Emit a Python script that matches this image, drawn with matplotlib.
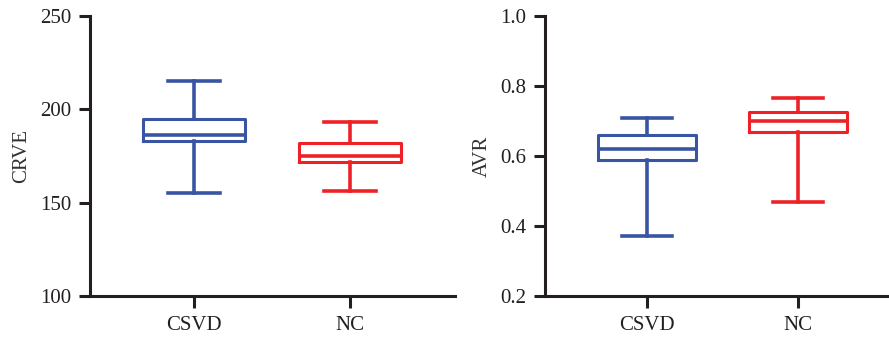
import matplotlib
matplotlib.use("Agg")
import matplotlib.pyplot as plt

groups = ["CSVD", "NC"]
colors = ["#3a54a4", "#ee2226"]

# CRVE box stats (whisker low, q1, median, q3, whisker high)
crve_lo = [155, 156]
crve_q1 = [183, 172]
crve_med = [186, 175]
crve_q3 = [195, 182]
crve_hi = [215, 193]

# AVR box stats
avr_lo = [0.37, 0.47]
avr_q1 = [0.59, 0.67]
avr_med = [0.62, 0.70]
avr_q3 = [0.66, 0.725]
avr_hi = [0.71, 0.765]

plt.rcParams['font.family'] = ['Liberation Serif', 'DejaVu Serif']
plt.rcParams['font.size'] = 15


def draw_box(ax, lo, q1, med, q3, hi, ylabel, yticks, ylim, xlim):
    for i in range(len(groups)):
        stats = [dict(whislo=lo[i], q1=q1[i], med=med[i], q3=q3[i], whishi=hi[i], fliers=[])]
        c = colors[i]
        ax.bxp(stats, positions=[i + 1], widths=0.65, capwidths=0.33,
               showfliers=False,
               boxprops=dict(color=c, linewidth=2.2),
               medianprops=dict(color=c, linewidth=2.6),
               whiskerprops=dict(color=c, linewidth=2.6),
               capprops=dict(color=c, linewidth=2.6))
    ax.set_xlim(*xlim)
    ax.set_ylim(*ylim)
    ax.set_yticks(yticks)
    ax.set_xticks([1, 2])
    ax.set_xticklabels(groups)
    ax.set_ylabel(ylabel, labelpad=6, color="#333333")
    for s in ["top", "right"]:
        ax.spines[s].set_visible(False)
    for s in ["left", "bottom"]:
        ax.spines[s].set_linewidth(2.2)
        ax.spines[s].set_color("#231f20")
    ax.tick_params(axis="y", length=8, width=2.2, pad=5.5, color="#231f20", labelcolor="#231f20")
    ax.tick_params(axis="x", length=8.5, width=2.2, pad=6, color="#231f20", labelcolor="#231f20")


fig = plt.figure(figsize=(8.89, 3.41), dpi=100)
ax1 = fig.add_axes([0.101, 0.132, 0.411, 0.821])
ax2 = fig.add_axes([0.613, 0.132, 0.387, 0.821])

draw_box(ax1, crve_lo, crve_q1, crve_med, crve_q3, crve_hi, "CRVE",
         [100, 150, 200, 250], (100, 250), (0.333, 2.675))
draw_box(ax2, avr_lo, avr_q1, avr_med, avr_q3, avr_hi, "AVR",
         [0.2, 0.4, 0.6, 0.8, 1.0], (0.2, 1.0), (0.325, 2.603))

fig.savefig("out.png", dpi=100)
